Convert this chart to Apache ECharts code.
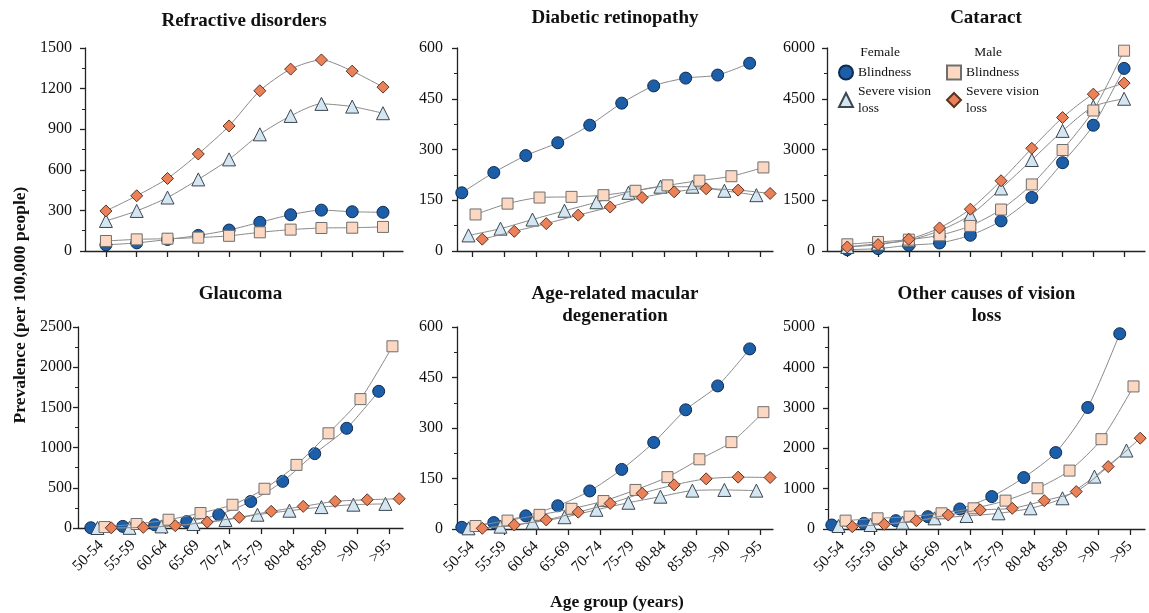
<!DOCTYPE html>
<html>
<head>
<meta charset="utf-8">
<title>Prevalence of vision loss by age group</title>
<script src="https://cdn.jsdelivr.net/npm/echarts@6/dist/echarts.min.js"></script>
<style>
  html, body { margin: 0; padding: 0; background: #fff; }
  #chart { width: 1149px; height: 613px; }
</style>
</head>
<body>
<div id="chart"></div>
<script>
// age groups on the x axis
const ageGroups = ['50-54', '55-59', '60-64', '65-69', '70-74', '75-79', '80-84', '85-89', '>90', '>95'];

// Refractive disorders
const refractiveFemaleBlind = [45, 60, 85, 115, 155, 212, 268, 302, 290, 286];
const refractiveFemaleSevere = [222, 296, 395, 529, 677, 862, 998, 1087, 1067, 1018];
const refractiveMaleBlind = [74, 86, 91, 99, 112, 138, 158, 170, 172, 178];
const refractiveMaleSevere = [296, 408, 536, 717, 924, 1184, 1344, 1412, 1329, 1211];

// Diabetic retinopathy
const diabeticFemaleBlind = [172, 232, 282, 320, 372, 437, 488, 511, 520, 555];
const diabeticFemaleSevere = [46, 66, 93, 119, 144, 172, 190, 190, 178, 165];
const diabeticMaleBlind = [108, 140, 158, 160, 165, 178, 194, 208, 221, 247];
const diabeticMaleSevere = [35, 58, 81, 106, 130, 158, 175, 184, 180, 170];

// Cataract
const cataractFemaleBlind = [40, 70, 170, 237, 465, 890, 1582, 2610, 3717, 5397];
const cataractFemaleSevere = [120, 217, 316, 600, 1060, 1848, 2690, 3550, 4270, 4500];
const cataractMaleBlind = [198, 267, 336, 465, 741, 1226, 1967, 2985, 4152, 5921];
const cataractMaleSevere = [119, 188, 346, 682, 1236, 2076, 3035, 3944, 4636, 4962];

// Glaucoma
const glaucomaFemaleBlind = [3, 20, 40, 80, 165, 330, 580, 925, 1240, 1700];
const glaucomaFemaleSevere = [0, 2, 20, 50, 100, 165, 215, 260, 290, 300];
const glaucomaMaleBlind = [12, 50, 103, 186, 289, 488, 785, 1178, 1603, 2260];
const glaucomaMaleSevere = [2, 8, 29, 74, 132, 207, 269, 331, 351, 364];

// Age-related macular degeneration
const amdFemaleBlind = [5, 19, 39, 69, 113, 177, 257, 354, 425, 535];
const amdFemaleSevere = [2, 7, 19, 35, 57, 78, 96, 114, 116, 114];
const amdMaleBlind = [9, 25, 42, 60, 83, 116, 154, 207, 258, 347];
const amdMaleSevere = [2, 12, 27, 50, 76, 106, 131, 149, 154, 153];

// Other causes of vision loss
const otherFemaleBlind = [99, 140, 207, 306, 496, 802, 1273, 1892, 3008, 4834];
const otherFemaleSevere = [74, 99, 157, 264, 322, 388, 512, 760, 1297, 1942];
const otherMaleBlind = [207, 264, 306, 388, 512, 702, 1008, 1446, 2223, 3529];
const otherMaleSevere = [58, 116, 207, 347, 471, 512, 702, 926, 1545, 2248];

const serif = '"Liberation Serif", "Times New Roman", serif';
const ink = '#111';

// series look: female blindness, female severe, male blindness, male severe
const seriesLook = [
  { name: 'Female Blindness', symbol: 'circle', size: 12, color: '#1c5ea8', border: '#0e2c52' },
  { name: 'Female Severe vision loss', symbol: 'triangle', size: 13, color: '#d3e6f1', border: '#3b4650' },
  { name: 'Male Blindness', symbol: 'rect', size: 11, color: '#fcd8c2', border: '#6e6e6e' },
  { name: 'Male Severe vision loss', symbol: 'diamond', size: 12, color: '#ea8159', border: '#5a3322' },
];

const dodged = [-0.32, -0.11, 0.11, 0.32];
const noDodge = [0, 0, 0, 0];

const panels = [
  { title: 'Refractive disorders', titleY: 21, rect: [85, 48, 318, 203], xMin: -0.68, xMax: 9.65, yMax: 1500, yStep: 300, labelGap: 13, offsets: noDodge,
    values: [refractiveFemaleBlind, refractiveFemaleSevere, refractiveMaleBlind, refractiveMaleSevere] },
  { title: 'Diabetic retinopathy', titleY: 18, rect: [457, 48, 316, 203], xMin: -0.47, xMax: 9.41, yMax: 600, yStep: 150, labelGap: 14, offsets: dodged,
    values: [diabeticFemaleBlind, diabeticFemaleSevere, diabeticMaleBlind, diabeticMaleSevere] },
  { title: 'Cataract', titleY: 18, rect: [827, 48, 318, 203], xMin: -0.66, xMax: 9.68, yMax: 6000, yStep: 1500, labelGap: 12, offsets: noDodge,
    values: [cataractFemaleBlind, cataractFemaleSevere, cataractMaleBlind, cataractMaleSevere] },
  { title: 'Glaucoma', titleY: 294, rect: [78, 327, 325, 201], xMin: -0.72, xMax: 9.44, yMax: 2500, yStep: 500, labelGap: 6, offsets: dodged,
    values: [glaucomaFemaleBlind, glaucomaFemaleSevere, glaucomaMaleBlind, glaucomaMaleSevere] },
  { title: 'Age-related macular\ndegeneration', titleY: 294, rect: [457, 327, 316, 202], xMin: -0.47, xMax: 9.41, yMax: 600, yStep: 150, labelGap: 14, offsets: dodged,
    values: [amdFemaleBlind, amdFemaleSevere, amdMaleBlind, amdMaleSevere] },
  { title: 'Other causes of vision\nloss', titleY: 294, rect: [828, 327, 317, 202], xMin: -0.44, xMax: 9.47, yMax: 5000, yStep: 1000, labelGap: 13, offsets: dodged,
    values: [otherFemaleBlind, otherFemaleSevere, otherMaleBlind, otherMaleSevere] },
];

const chart = echarts.init(document.getElementById('chart'));
const tickPositions = ageGroups.map((_, i) => i);
const axisLine = { show: true, onZero: false, lineStyle: { color: '#222', width: 1.3 } };

const option = {
  backgroundColor: '#fff',
  animation: false,
  title: panels.map((p) => ({
    text: p.title,
    left: p.rect[0] + p.rect[2] / 2,
    top: p.titleY - 11,
    textAlign: 'center',
    padding: 0,
    textStyle: { fontFamily: serif, fontSize: 19, fontWeight: 'bold', color: ink, lineHeight: 22 },
  })),
  grid: panels.map((p) => ({
    left: p.rect[0], top: p.rect[1], width: p.rect[2], height: p.rect[3],
    containLabel: false, outerBoundsMode: 'none',
  })),
  xAxis: panels.map((p, k) => ({
    type: 'value',
    gridIndex: k,
    min: p.xMin,
    max: p.xMax,
    axisLine: axisLine,
    axisTick: { show: true, customValues: tickPositions, length: 6, lineStyle: { color: '#222', width: 1.3 } },
    axisLabel: {
      show: k >= 3,
      customValues: tickPositions,
      formatter: (v) => ageGroups[Math.round(v)],
      rotate: 45,
      margin: 15,
      fontFamily: serif,
      fontSize: 15.5,
      color: ink,
    },
    splitLine: { show: false },
  })),
  yAxis: panels.map((p, k) => ({
    type: 'value',
    gridIndex: k,
    min: 0,
    max: p.yMax,
    interval: p.yStep,
    axisLine: axisLine,
    axisTick: { show: true, length: 5, lineStyle: { color: '#222', width: 1.3 } },
    minorTick: { show: true, splitNumber: 2, length: 3, lineStyle: { color: '#222', width: 1 } },
    axisLabel: { fontFamily: serif, fontSize: 16, color: ink, margin: p.labelGap, formatter: (v) => String(v) },
    splitLine: { show: false },
    minorSplitLine: { show: false },
  })),
  legend: [
    {
      orient: 'vertical', left: 838, top: 64, padding: 0, itemGap: 2,
      itemWidth: 14, itemHeight: 14,
      data: [{ name: 'Female Blindness', icon: 'circle' }, { name: 'Female Severe vision loss', icon: 'triangle' }],
      formatter: (n) => (n.indexOf('Blindness') >= 0 ? 'Blindness' : 'Severe vision\nloss'),
      textStyle: { fontFamily: serif, fontSize: 13.5, lineHeight: 17, color: ink },
    },
    {
      orient: 'vertical', left: 946, top: 64, padding: 0, itemGap: 2,
      itemWidth: 14, itemHeight: 14,
      data: [{ name: 'Male Blindness', icon: 'rect' }, { name: 'Male Severe vision loss', icon: 'diamond' }],
      formatter: (n) => (n.indexOf('Blindness') >= 0 ? 'Blindness' : 'Severe vision\nloss'),
      textStyle: { fontFamily: serif, fontSize: 13.5, lineHeight: 17, color: ink },
    },
  ],
  graphic: [
    { type: 'text', x: 880, y: 52, style: { text: 'Female', fontFamily: serif, fontSize: 13.5, fill: ink, align: 'center', verticalAlign: 'middle' } },
    { type: 'text', x: 988, y: 52, style: { text: 'Male', fontFamily: serif, fontSize: 13.5, fill: ink, align: 'center', verticalAlign: 'middle' } },
    { type: 'text', x: 20, y: 305, rotation: Math.PI / 2,
      style: { text: 'Prevalence (per 100,000 people)', fontFamily: serif, fontSize: 17.5, fontWeight: 'bold', fill: ink, align: 'center', verticalAlign: 'middle' } },
    { type: 'text', x: 617, y: 602,
      style: { text: 'Age group (years)', fontFamily: serif, fontSize: 17.5, fontWeight: 'bold', fill: ink, align: 'center', verticalAlign: 'middle' } },
  ],
  series: [],
};

panels.forEach((p, k) => {
  p.values.forEach((vals, s) => {
    const look = seriesLook[s];
    option.series.push({
      type: 'line',
      name: look.name,
      xAxisIndex: k,
      yAxisIndex: k,
      data: vals.map((v, i) => [i + p.offsets[s], v]),
      symbol: look.symbol,
      symbolSize: look.size,
      smooth: 0.25,
      clip: false,
      lineStyle: { color: '#8a8a8a', width: 1 },
      itemStyle: { color: look.color, borderColor: look.border, borderWidth: 1 },
      emphasis: { disabled: true },
      z: 2 + s,
    });
  });
});

chart.setOption(option);
</script>
</body>
</html>
